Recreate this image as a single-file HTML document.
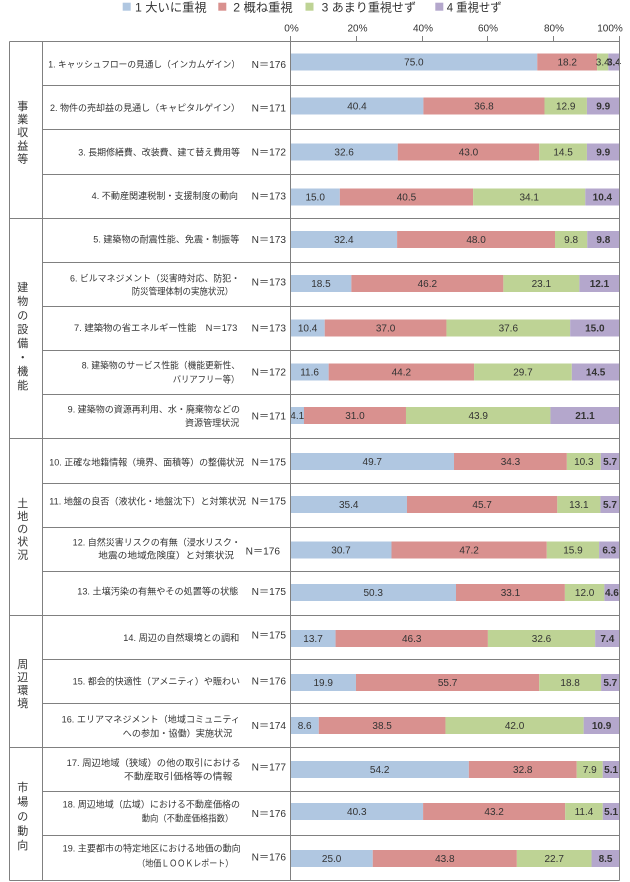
<!DOCTYPE html>
<html><head><meta charset="utf-8"><style>
html,body{margin:0;padding:0;background:#fff;}
svg{display:block;}
text{font-family:"Liberation Sans","Noto Sans CJK JP",sans-serif;fill:#333;}
</style></head><body>
<svg width="630" height="882" viewBox="0 0 630 882" xmlns="http://www.w3.org/2000/svg">
<rect x="0" y="0" width="630" height="882" fill="#fff"/>
<!-- legend -->
<rect x="122.7" y="2.7" width="8" height="8" fill="#b0c7e1"/>
<text x="135" y="11.5" font-size="12" textLength="71.7" lengthAdjust="spacingAndGlyphs">1 大いに重視</text>
<rect x="218.3" y="2.7" width="8" height="8" fill="#d9918f"/>
<text x="233.3" y="11.5" font-size="12" textLength="59.4" lengthAdjust="spacingAndGlyphs">2 概ね重視</text>
<rect x="305.5" y="2.7" width="8" height="8" fill="#bed395"/>
<text x="321.7" y="11.5" font-size="12" textLength="94.3" lengthAdjust="spacingAndGlyphs">3 あまり重視せず</text>
<rect x="435.3" y="2.7" width="8" height="8" fill="#b4a7cc"/>
<text x="446.7" y="11.5" font-size="12" textLength="55" lengthAdjust="spacingAndGlyphs">4 重視せず</text>
<!-- tick labels -->
<g font-size="10" text-anchor="middle">
<text x="291.5" y="31.5">0%</text>
<text x="357.5" y="31.5">20%</text>
<text x="423" y="31.5">40%</text>
<text x="488" y="31.5">60%</text>
<text x="554" y="31.5">80%</text>
<text x="610" y="31.5">100%</text>
</g>
<!-- bars -->
<svg x="290.5" y="0" width="329" height="882" overflow="visible">
<g>
<rect x="0%" y="53.5" width="75%" height="17" fill="#b0c7e1"/><rect x="75%" y="53.5" width="18.2%" height="17" fill="#d9918f"/><rect x="93.2%" y="53.5" width="3.4%" height="17" fill="#bed395"/><rect x="96.6%" y="53.5" width="3.4%" height="17" fill="#b4a7cc"/>
<rect x="0%" y="97.5" width="40.4%" height="17" fill="#b0c7e1"/><rect x="40.4%" y="97.5" width="36.8%" height="17" fill="#d9918f"/><rect x="77.2%" y="97.5" width="12.9%" height="17" fill="#bed395"/><rect x="90.1%" y="97.5" width="9.9%" height="17" fill="#b4a7cc"/>
<rect x="0%" y="143.5" width="32.6%" height="17" fill="#b0c7e1"/><rect x="32.6%" y="143.5" width="43%" height="17" fill="#d9918f"/><rect x="75.6%" y="143.5" width="14.5%" height="17" fill="#bed395"/><rect x="90.1%" y="143.5" width="9.9%" height="17" fill="#b4a7cc"/>
<rect x="0%" y="188.5" width="15%" height="17" fill="#b0c7e1"/><rect x="15%" y="188.5" width="40.5%" height="17" fill="#d9918f"/><rect x="55.5%" y="188.5" width="34.1%" height="17" fill="#bed395"/><rect x="89.6%" y="188.5" width="10.4%" height="17" fill="#b4a7cc"/>
<rect x="0%" y="231" width="32.4%" height="17" fill="#b0c7e1"/><rect x="32.4%" y="231" width="48%" height="17" fill="#d9918f"/><rect x="80.4%" y="231" width="9.8%" height="17" fill="#bed395"/><rect x="90.2%" y="231" width="9.8%" height="17" fill="#b4a7cc"/>
<rect x="0%" y="275" width="18.5%" height="17" fill="#b0c7e1"/><rect x="18.5%" y="275" width="46.2%" height="17" fill="#d9918f"/><rect x="64.7%" y="275" width="23.1%" height="17" fill="#bed395"/><rect x="87.8%" y="275" width="12.2%" height="17" fill="#b4a7cc"/>
<rect x="0%" y="319.5" width="10.4%" height="17" fill="#b0c7e1"/><rect x="10.4%" y="319.5" width="37%" height="17" fill="#d9918f"/><rect x="47.4%" y="319.5" width="37.6%" height="17" fill="#bed395"/><rect x="85%" y="319.5" width="15%" height="17" fill="#b4a7cc"/>
<rect x="0%" y="363.5" width="11.6%" height="17" fill="#b0c7e1"/><rect x="11.6%" y="363.5" width="44.2%" height="17" fill="#d9918f"/><rect x="55.8%" y="363.5" width="29.7%" height="17" fill="#bed395"/><rect x="85.5%" y="363.5" width="14.5%" height="17" fill="#b4a7cc"/>
<rect x="0%" y="407" width="4.1%" height="17" fill="#b0c7e1"/><rect x="4.1%" y="407" width="31%" height="17" fill="#d9918f"/><rect x="35.1%" y="407" width="43.9%" height="17" fill="#bed395"/><rect x="79%" y="407" width="21%" height="17" fill="#b4a7cc"/>
<rect x="0%" y="453" width="49.7%" height="17" fill="#b0c7e1"/><rect x="49.7%" y="453" width="34.3%" height="17" fill="#d9918f"/><rect x="84%" y="453" width="10.3%" height="17" fill="#bed395"/><rect x="94.3%" y="453" width="5.7%" height="17" fill="#b4a7cc"/>
<rect x="0%" y="496" width="35.4%" height="17" fill="#b0c7e1"/><rect x="35.4%" y="496" width="45.7%" height="17" fill="#d9918f"/><rect x="81.1%" y="496" width="13.1%" height="17" fill="#bed395"/><rect x="94.2%" y="496" width="5.8%" height="17" fill="#b4a7cc"/>
<rect x="0%" y="541.5" width="30.7%" height="17" fill="#b0c7e1"/><rect x="30.7%" y="541.5" width="47.2%" height="17" fill="#d9918f"/><rect x="77.9%" y="541.5" width="15.9%" height="17" fill="#bed395"/><rect x="93.8%" y="541.5" width="6.2%" height="17" fill="#b4a7cc"/>
<rect x="0%" y="584" width="50.3%" height="17" fill="#b0c7e1"/><rect x="50.3%" y="584" width="33.1%" height="17" fill="#d9918f"/><rect x="83.4%" y="584" width="12%" height="17" fill="#bed395"/><rect x="95.4%" y="584" width="4.6%" height="17" fill="#b4a7cc"/>
<rect x="0%" y="630" width="13.7%" height="17" fill="#b0c7e1"/><rect x="13.7%" y="630" width="46.3%" height="17" fill="#d9918f"/><rect x="60%" y="630" width="32.6%" height="17" fill="#bed395"/><rect x="92.6%" y="630" width="7.4%" height="17" fill="#b4a7cc"/>
<rect x="0%" y="674" width="19.9%" height="17" fill="#b0c7e1"/><rect x="19.9%" y="674" width="55.7%" height="17" fill="#d9918f"/><rect x="75.6%" y="674" width="18.8%" height="17" fill="#bed395"/><rect x="94.4%" y="674" width="5.6%" height="17" fill="#b4a7cc"/>
<rect x="0%" y="717" width="8.6%" height="17" fill="#b0c7e1"/><rect x="8.6%" y="717" width="38.5%" height="17" fill="#d9918f"/><rect x="47.1%" y="717" width="42%" height="17" fill="#bed395"/><rect x="89.1%" y="717" width="10.9%" height="17" fill="#b4a7cc"/>
<rect x="0%" y="761" width="54.2%" height="17" fill="#b0c7e1"/><rect x="54.2%" y="761" width="32.8%" height="17" fill="#d9918f"/><rect x="87%" y="761" width="7.9%" height="17" fill="#bed395"/><rect x="94.9%" y="761" width="5.1%" height="17" fill="#b4a7cc"/>
<rect x="0%" y="803" width="40.3%" height="17" fill="#b0c7e1"/><rect x="40.3%" y="803" width="43.2%" height="17" fill="#d9918f"/><rect x="83.5%" y="803" width="11.4%" height="17" fill="#bed395"/><rect x="94.9%" y="803" width="5.1%" height="17" fill="#b4a7cc"/>
<rect x="0%" y="850" width="25%" height="17" fill="#b0c7e1"/><rect x="25%" y="850" width="43.8%" height="17" fill="#d9918f"/><rect x="68.8%" y="850" width="22.7%" height="17" fill="#bed395"/><rect x="91.5%" y="850" width="8.5%" height="17" fill="#b4a7cc"/>
</g>
<g font-size="10" text-anchor="middle">
<text x="37.5%" y="65.6">75.0</text><text x="84.1%" y="65.6">18.2</text><text x="94.9%" y="65.6">3.4</text><text x="98.3%" y="65.6" font-weight="bold">3.4</text>
<text x="20.2%" y="109.6">40.4</text><text x="58.8%" y="109.6">36.8</text><text x="83.65%" y="109.6">12.9</text><text x="95.05%" y="109.6" font-weight="bold">9.9</text>
<text x="16.3%" y="155.6">32.6</text><text x="54.1%" y="155.6">43.0</text><text x="82.85%" y="155.6">14.5</text><text x="95.05%" y="155.6" font-weight="bold">9.9</text>
<text x="7.5%" y="200.6">15.0</text><text x="35.25%" y="200.6">40.5</text><text x="72.55%" y="200.6">34.1</text><text x="94.8%" y="200.6" font-weight="bold">10.4</text>
<text x="16.2%" y="243.1">32.4</text><text x="56.4%" y="243.1">48.0</text><text x="85.3%" y="243.1">9.8</text><text x="95.1%" y="243.1" font-weight="bold">9.8</text>
<text x="9.25%" y="287.1">18.5</text><text x="41.6%" y="287.1">46.2</text><text x="76.25%" y="287.1">23.1</text><text x="93.9%" y="287.1" font-weight="bold">12.1</text>
<text x="5.2%" y="331.6">10.4</text><text x="28.9%" y="331.6">37.0</text><text x="66.2%" y="331.6">37.6</text><text x="92.5%" y="331.6" font-weight="bold">15.0</text>
<text x="5.8%" y="375.6">11.6</text><text x="33.7%" y="375.6">44.2</text><text x="70.65%" y="375.6">29.7</text><text x="92.75%" y="375.6" font-weight="bold">14.5</text>
<text x="2.05%" y="419.1">4.1</text><text x="19.6%" y="419.1">31.0</text><text x="57.05%" y="419.1">43.9</text><text x="89.5%" y="419.1" font-weight="bold">21.1</text>
<text x="24.85%" y="465.1">49.7</text><text x="66.85%" y="465.1">34.3</text><text x="89.15%" y="465.1">10.3</text><text x="97.15%" y="465.1" font-weight="bold">5.7</text>
<text x="17.7%" y="508.1">35.4</text><text x="58.25%" y="508.1">45.7</text><text x="87.65%" y="508.1">13.1</text><text x="97.1%" y="508.1" font-weight="bold">5.7</text>
<text x="15.35%" y="553.6">30.7</text><text x="54.3%" y="553.6">47.2</text><text x="85.85%" y="553.6">15.9</text><text x="96.9%" y="553.6" font-weight="bold">6.3</text>
<text x="25.15%" y="596.1">50.3</text><text x="66.85%" y="596.1">33.1</text><text x="89.4%" y="596.1">12.0</text><text x="97.7%" y="596.1" font-weight="bold">4.6</text>
<text x="6.85%" y="642.1">13.7</text><text x="36.85%" y="642.1">46.3</text><text x="76.3%" y="642.1">32.6</text><text x="96.3%" y="642.1" font-weight="bold">7.4</text>
<text x="9.95%" y="686.1">19.9</text><text x="47.75%" y="686.1">55.7</text><text x="85%" y="686.1">18.8</text><text x="97.2%" y="686.1" font-weight="bold">5.7</text>
<text x="4.3%" y="729.1">8.6</text><text x="27.85%" y="729.1">38.5</text><text x="68.1%" y="729.1">42.0</text><text x="94.55%" y="729.1" font-weight="bold">10.9</text>
<text x="27.1%" y="773.1">54.2</text><text x="70.6%" y="773.1">32.8</text><text x="90.95%" y="773.1">7.9</text><text x="97.45%" y="773.1" font-weight="bold">5.1</text>
<text x="20.15%" y="815.1">40.3</text><text x="61.9%" y="815.1">43.2</text><text x="89.2%" y="815.1">11.4</text><text x="97.45%" y="815.1" font-weight="bold">5.1</text>
<text x="12.5%" y="862.1">25.0</text><text x="46.9%" y="862.1">43.8</text><text x="80.15%" y="862.1">22.7</text><text x="95.75%" y="862.1" font-weight="bold">8.5</text>
</g>
</svg>
<!-- grid lines -->
<g stroke="#808080" stroke-width="1" fill="none" shape-rendering="crispEdges">
<line x1="9.5" y1="41.5" x2="619.5" y2="41.5"/>
<line x1="9.5" y1="41.5" x2="9.5" y2="880.5"/>
<line x1="9.5" y1="880.5" x2="619.5" y2="880.5"/>
<line x1="619.5" y1="36" x2="619.5" y2="880.5"/>
<line x1="42.5" y1="41.5" x2="42.5" y2="880.5"/>
<line x1="290.5" y1="36" x2="290.5" y2="880.5"/>
<line x1="356.5" y1="36" x2="356.5" y2="41.5"/>
<line x1="422.5" y1="36" x2="422.5" y2="41.5"/>
<line x1="487.5" y1="36" x2="487.5" y2="41.5"/>
<line x1="553.5" y1="36" x2="553.5" y2="41.5"/>
<line x1="9.5" y1="218.5" x2="619.5" y2="218.5"/>
<line x1="9.5" y1="438.5" x2="619.5" y2="438.5"/>
<line x1="9.5" y1="615.5" x2="619.5" y2="615.5"/>
<line x1="9.5" y1="747.5" x2="619.5" y2="747.5"/>
<line x1="42.5" y1="85.5" x2="619.5" y2="85.5"/>
<line x1="42.5" y1="129.5" x2="619.5" y2="129.5"/>
<line x1="42.5" y1="174.5" x2="619.5" y2="174.5"/>
<line x1="42.5" y1="262.5" x2="619.5" y2="262.5"/>
<line x1="42.5" y1="306.5" x2="619.5" y2="306.5"/>
<line x1="42.5" y1="350.5" x2="619.5" y2="350.5"/>
<line x1="42.5" y1="394.5" x2="619.5" y2="394.5"/>
<line x1="42.5" y1="483.5" x2="619.5" y2="483.5"/>
<line x1="42.5" y1="527.5" x2="619.5" y2="527.5"/>
<line x1="42.5" y1="571.5" x2="619.5" y2="571.5"/>
<line x1="42.5" y1="659.5" x2="619.5" y2="659.5"/>
<line x1="42.5" y1="703.5" x2="619.5" y2="703.5"/>
<line x1="42.5" y1="791.5" x2="619.5" y2="791.5"/>
<line x1="42.5" y1="835.5" x2="619.5" y2="835.5"/>
</g>
<!-- group labels -->
<g font-size="11" text-anchor="middle">
<text x="22.7" y="109.9">事</text><text x="22.7" y="123.05">業</text><text x="22.7" y="136.2">収</text><text x="22.7" y="149.35">益</text><text x="22.7" y="162.5">等</text>
<text x="22.7" y="291">建</text><text x="22.7" y="305">物</text><text x="22.7" y="319">の</text><text x="22.7" y="333">設</text><text x="22.7" y="347">備</text><text x="22.7" y="361">・</text><text x="22.7" y="375">機</text><text x="22.7" y="389">能</text>
<text x="22.7" y="506.9">土</text><text x="22.7" y="519.8">地</text><text x="22.7" y="532.7">の</text><text x="22.7" y="545.6">状</text><text x="22.7" y="558.5">況</text>
<text x="22.7" y="667.9">周</text><text x="22.7" y="680.9">辺</text><text x="22.7" y="693.9">環</text><text x="22.7" y="706.9">境</text>
<text x="22.7" y="790.9">市</text><text x="22.7" y="805.5">場</text><text x="22.7" y="820.1">の</text><text x="22.7" y="834.6">動</text><text x="22.7" y="849.2">向</text>
</g>
<!-- row labels -->
<g font-size="9" lengthAdjust="spacingAndGlyphs">
<text x="48.3" y="67.7" textLength="191.7" lengthAdjust="spacingAndGlyphs">1. キャッシュフローの見通し（インカムゲイン）</text>
<text x="50" y="111.1" textLength="190" lengthAdjust="spacingAndGlyphs">2. 物件の売却益の見通し（キャピタルゲイン）</text>
<text x="78.3" y="155.4" textLength="161.7" lengthAdjust="spacingAndGlyphs">3. 長期修繕費、改装費、建て替え費用等</text>
<text x="91.7" y="199.1" textLength="146.3" lengthAdjust="spacingAndGlyphs">4. 不動産関連税制・支援制度の動向</text>
<text x="93.3" y="242.7" textLength="146" lengthAdjust="spacingAndGlyphs">5. 建築物の耐震性能、免震・制振等</text>
<text x="70" y="281.7" textLength="170" lengthAdjust="spacingAndGlyphs">6. ビルマネジメント（災害時対応、防犯・</text>
<text x="131.7" y="294.4" textLength="101.6" lengthAdjust="spacingAndGlyphs">防災管理体制の実施状況）</text>
<text x="74" y="331.1" textLength="163.3" lengthAdjust="spacingAndGlyphs">7. 建築物の省エネルギー性能　N＝173</text>
<text x="81.7" y="368.7" textLength="158.3" lengthAdjust="spacingAndGlyphs">8. 建築物のサービス性能（機能更新性、</text>
<text x="172.7" y="382.4" textLength="66.6" lengthAdjust="spacingAndGlyphs">バリアフリー等）</text>
<text x="67.7" y="412.7" textLength="172.3" lengthAdjust="spacingAndGlyphs">9. 建築物の資源再利用、水・廃棄物などの</text>
<text x="185" y="426.1" textLength="54.3" lengthAdjust="spacingAndGlyphs">資源管理状況</text>
<text x="49.3" y="465.4" textLength="194.7" lengthAdjust="spacingAndGlyphs">10. 正確な地籍情報（境界、面積等）の整備状況</text>
<text x="49.3" y="504.4" textLength="196.7" lengthAdjust="spacingAndGlyphs">11. 地盤の良否（液状化・地盤沈下）と対策状況</text>
<text x="72.7" y="545.4" textLength="168" lengthAdjust="spacingAndGlyphs">12. 自然災害リスクの有無（浸水リスク・</text>
<text x="98.3" y="558.4" textLength="135.7" lengthAdjust="spacingAndGlyphs">地震の地域危険度）と対策状況</text>
<text x="77.3" y="594.7" textLength="161" lengthAdjust="spacingAndGlyphs">13. 土壌汚染の有無やその処置等の状態</text>
<text x="123.3" y="641.1" textLength="116" lengthAdjust="spacingAndGlyphs">14. 周辺の自然環境との調和</text>
<text x="72.7" y="684.4" textLength="167.3" lengthAdjust="spacingAndGlyphs">15. 都会的快適性（アメニティ）や賑わい</text>
<text x="61.7" y="722.7" textLength="178.3" lengthAdjust="spacingAndGlyphs">16. エリアマネジメント（地域コミュニティ</text>
<text x="122.7" y="736.6" textLength="109.6" lengthAdjust="spacingAndGlyphs">への参加・協働）実施状況</text>
<text x="66.7" y="766.1" textLength="174" lengthAdjust="spacingAndGlyphs">17. 周辺地域（狭域）の他の取引における</text>
<text x="124" y="779.4" textLength="108.3" lengthAdjust="spacingAndGlyphs">不動産取引価格等の情報</text>
<text x="62.7" y="807.7" textLength="177.3" lengthAdjust="spacingAndGlyphs">18. 周辺地域（広域）における不動産価格の</text>
<text x="141.7" y="821.7" textLength="91.6" lengthAdjust="spacingAndGlyphs">動向（不動産価格指数）</text>
<text x="62.7" y="851.7" textLength="178" lengthAdjust="spacingAndGlyphs">19. 主要都市の特定地区における地価の動向</text>
<text x="137.3" y="866.7" textLength="96" lengthAdjust="spacingAndGlyphs">（地価ＬＯＯＫレポート）</text>
</g>
<!-- N labels -->
<g font-size="10">
<text x="251.7" y="67.9" textLength="34.3" lengthAdjust="spacingAndGlyphs">N＝176</text>
<text x="251.7" y="111.3" textLength="34.3" lengthAdjust="spacingAndGlyphs">N＝171</text>
<text x="251.7" y="155.6" textLength="34.3" lengthAdjust="spacingAndGlyphs">N＝172</text>
<text x="251.7" y="199.3" textLength="34.3" lengthAdjust="spacingAndGlyphs">N＝173</text>
<text x="251.7" y="242.9" textLength="34.3" lengthAdjust="spacingAndGlyphs">N＝173</text>
<text x="251.7" y="285.3" textLength="34.3" lengthAdjust="spacingAndGlyphs">N＝173</text>
<text x="251.7" y="331.3" textLength="34.3" lengthAdjust="spacingAndGlyphs">N＝173</text>
<text x="251.7" y="375.3" textLength="34.3" lengthAdjust="spacingAndGlyphs">N＝172</text>
<text x="251.7" y="419.3" textLength="34.3" lengthAdjust="spacingAndGlyphs">N＝171</text>
<text x="251.7" y="465.6" textLength="34.3" lengthAdjust="spacingAndGlyphs">N＝175</text>
<text x="251.7" y="504.6" textLength="34.3" lengthAdjust="spacingAndGlyphs">N＝175</text>
<text x="245.7" y="554.6" textLength="34.3" lengthAdjust="spacingAndGlyphs">N＝176</text>
<text x="251.7" y="594.9" textLength="34.3" lengthAdjust="spacingAndGlyphs">N＝175</text>
<text x="251.7" y="638.6" textLength="34.3" lengthAdjust="spacingAndGlyphs">N＝175</text>
<text x="251.7" y="684.6" textLength="34.3" lengthAdjust="spacingAndGlyphs">N＝176</text>
<text x="251.7" y="729.1" textLength="34.3" lengthAdjust="spacingAndGlyphs">N＝174</text>
<text x="251.7" y="770.3" textLength="34.3" lengthAdjust="spacingAndGlyphs">N＝177</text>
<text x="251.7" y="816.9" textLength="34.3" lengthAdjust="spacingAndGlyphs">N＝176</text>
<text x="251.7" y="860.3" textLength="34.3" lengthAdjust="spacingAndGlyphs">N＝176</text>
</g>
</svg>
</body></html>
